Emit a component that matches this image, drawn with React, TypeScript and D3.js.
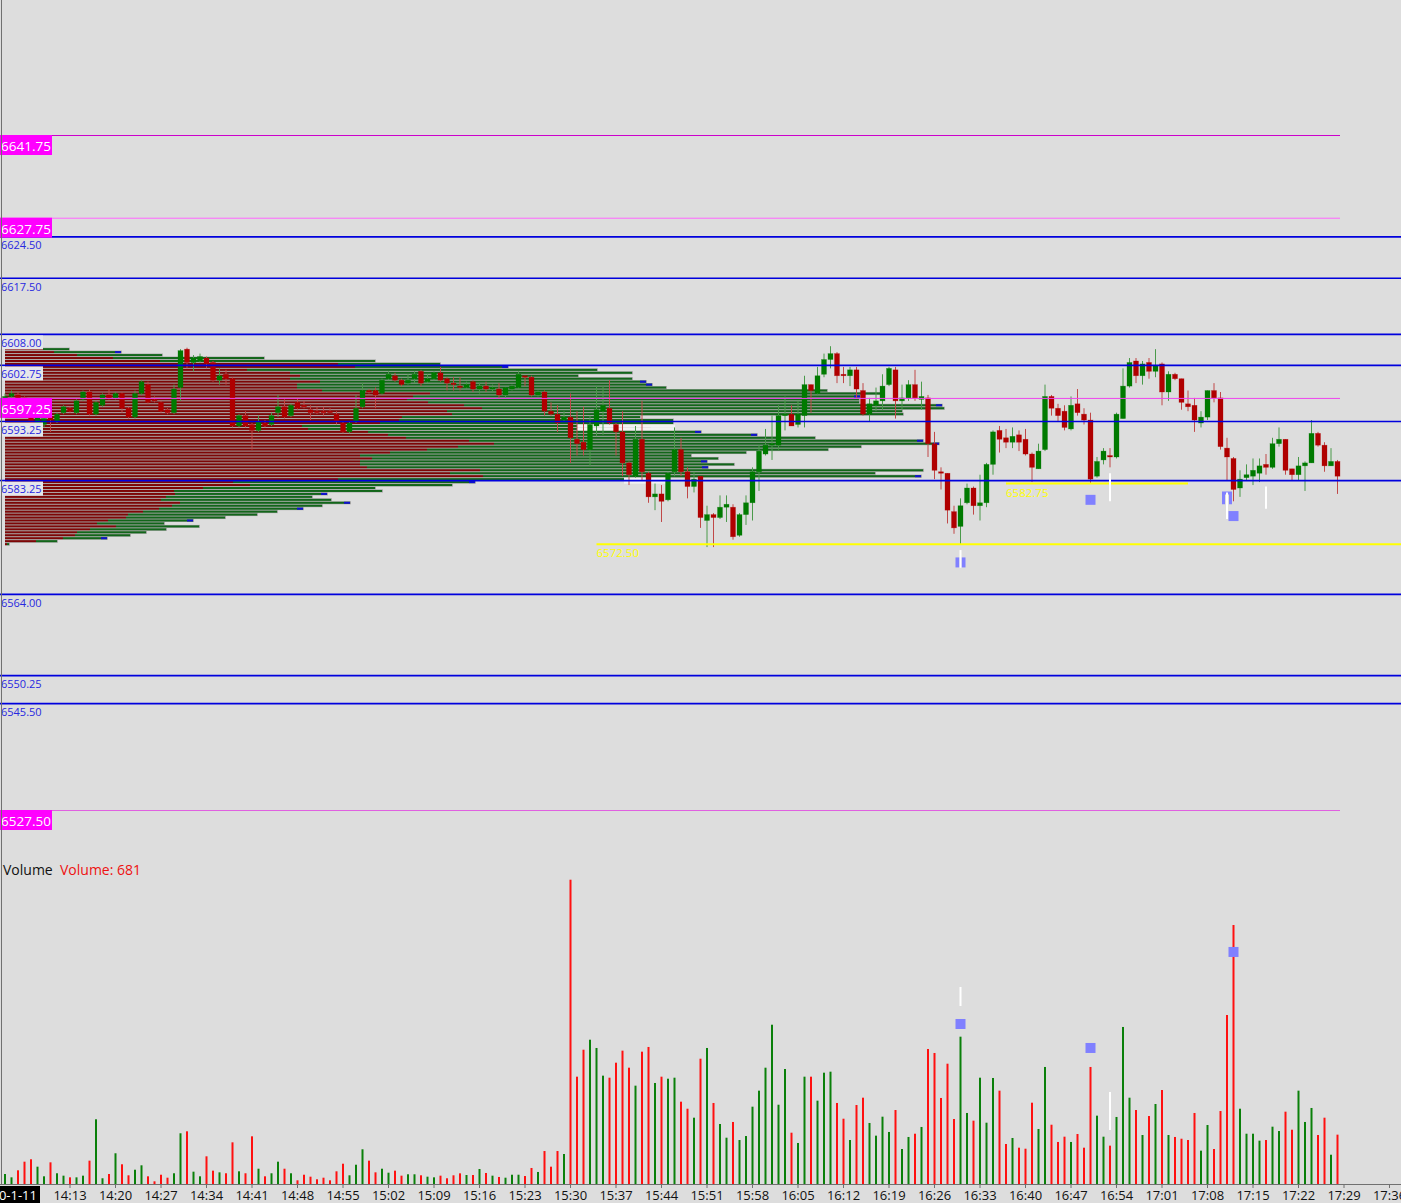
import React from "react";
import * as d3 from "d3";

const W = 1401;
const H = 1203;
const START_MIN = 14 * 60 + 3;

// [open, high, low, close] one per minute from 14:03
const ohlc: [number, number, number, number][] = [
  [6596.5, 6598, 6596.25, 6597.5], [6597.5, 6598.5, 6597, 6598], [6597.75, 6598.25, 6597, 6597.25], [6597.25, 6597.5, 6595.75, 6596],
  [6596, 6596.25, 6592.5, 6593], [6593, 6594.5, 6592.75, 6594.25], [6592.75, 6594, 6592.25, 6593.75], [6594, 6594.25, 6591.5, 6593.5],
  [6593.25, 6594.75, 6593, 6594.5], [6594.75, 6596, 6594.5, 6595.75], [6595.5, 6595.75, 6594.75, 6595], [6594.75, 6597, 6594.5, 6596.75],
  [6597, 6598.5, 6596.75, 6598.25], [6598.25, 6598.75, 6594.25, 6594.5], [6594.5, 6596.75, 6594.25, 6596.5], [6596, 6598, 6595.75, 6597.75],
  [6597.75, 6598.75, 6597, 6597.25], [6597.25, 6598.25, 6597, 6598], [6598, 6598.25, 6594.75, 6595.5], [6595.5, 6595.75, 6593.75, 6594],
  [6594, 6598.5, 6593.75, 6598], [6598, 6600.25, 6597.75, 6600], [6599.5, 6600, 6596.25, 6596.5], [6597, 6597.5, 6596.5, 6596.75],
  [6596.5, 6596.75, 6594.75, 6595], [6595.25, 6595.5, 6594.5, 6594.75], [6594.75, 6599.5, 6594.5, 6598.75], [6599, 6605.5, 6596.75, 6605.25],
  [6605.5, 6605.75, 6602.25, 6603.25], [6603.25, 6604.5, 6601.75, 6604], [6603.5, 6604.75, 6603.25, 6604.25], [6604, 6604.25, 6602.25, 6603],
  [6603.25, 6603.5, 6600, 6600.25], [6600.25, 6602.25, 6599.5, 6601], [6601.25, 6602, 6599.5, 6600.5], [6600.5, 6600.75, 6592.25, 6592.5],
  [6592.5, 6594.5, 6592.25, 6594.25], [6594.25, 6595, 6592.25, 6592.5], [6592.75, 6593, 6588.5, 6591.75], [6591.75, 6594.25, 6591.5, 6593.25],
  [6593, 6593.5, 6592.25, 6592.5], [6592.75, 6594.75, 6592.5, 6594.25], [6594.75, 6597.75, 6594, 6595.75], [6595.75, 6597, 6593.75, 6594],
  [6594.25, 6596.25, 6594, 6596], [6596.5, 6597.25, 6595.25, 6595.5], [6596, 6596.75, 6595.5, 6595.75], [6595.25, 6596, 6593.5, 6594.75],
  [6595, 6595.75, 6594.5, 6594.75], [6595, 6595.75, 6594.25, 6594.75], [6595, 6595.5, 6594.75, 6594.75], [6594.5, 6595, 6592.75, 6593.25],
  [6593, 6593.25, 6591.25, 6591.5], [6591.5, 6593.25, 6591.25, 6593], [6593.25, 6597.75, 6593, 6595.5], [6595.75, 6599.75, 6595.5, 6598.5],
  [6598.5, 6598.75, 6598, 6598.25], [6598.5, 6599, 6595.5, 6597.75], [6598, 6600.5, 6597.75, 6600.25], [6600.5, 6601.75, 6600.25, 6601.25],
  [6601, 6601.5, 6600, 6600.25], [6600.25, 6600.5, 6599.25, 6599.5], [6599.75, 6601.25, 6599.5, 6600.25], [6600.5, 6601.75, 6599.75, 6601.25],
  [6601.75, 6602, 6599.25, 6599.75], [6600, 6601.25, 6599.75, 6600.5], [6600.5, 6601.75, 6600.25, 6601.5], [6601.5, 6602.5, 6600, 6600.25],
  [6600.5, 6600.75, 6598.5, 6599.75], [6599.75, 6600.75, 6598.5, 6599.5], [6599.25, 6600.75, 6598.5, 6599], [6599, 6600, 6598.75, 6599.5],
  [6600, 6600.25, 6598.25, 6598.75], [6598.75, 6599.75, 6598, 6599.25], [6599.25, 6600, 6598.25, 6598.75], [6598.75, 6599.5, 6598.25, 6599],
  [6598.75, 6599.75, 6597.25, 6597.75], [6597.75, 6599, 6597.25, 6599], [6598.75, 6599.5, 6598.5, 6599.25], [6599, 6601.75, 6598.75, 6601.25],
  [6601, 6601, 6599.25, 6600.75], [6600.75, 6601, 6597.5, 6597.75], [6597.75, 6598.5, 6597.5, 6598.25], [6598.25, 6598.5, 6594.25, 6595],
  [6595, 6596.5, 6594.25, 6594.5], [6594.5, 6596, 6591.5, 6593], [6593.5, 6595, 6593.25, 6594], [6594, 6598, 6586.25, 6590.5],
  [6590.25, 6595, 6587.5, 6589.5], [6589.75, 6595.75, 6587.5, 6588.5], [6588.5, 6594.25, 6585.75, 6592.75], [6592.5, 6599.25, 6590.75, 6595.25],
  [6595, 6599.25, 6591, 6596], [6595.5, 6600.25, 6592.75, 6593], [6592.75, 6593, 6587.5, 6591.5], [6591.5, 6595, 6584, 6586.25],
  [6586.25, 6586.5, 6582.5, 6584.25], [6584, 6592.5, 6583.75, 6590.25], [6590.25, 6596.75, 6583.25, 6584.75], [6584.5, 6584.75, 6579.5, 6580.5],
  [6580.5, 6582.75, 6578.25, 6581], [6581, 6582.5, 6576.25, 6579.75], [6580, 6584.75, 6579.75, 6584.5], [6584.75, 6592.25, 6584, 6588.5],
  [6588.5, 6590.5, 6584, 6584.75], [6584.75, 6585.5, 6580.25, 6582.25], [6582.25, 6584.75, 6581.25, 6583.5], [6584, 6584, 6575.25, 6577],
  [6576.5, 6579, 6572, 6577.5], [6577.5, 6577.75, 6572, 6577], [6577, 6580.75, 6576.75, 6578.75], [6578.75, 6580.75, 6576.25, 6579.25],
  [6578.75, 6579.25, 6573.25, 6573.75], [6574, 6577.75, 6573.75, 6577.5], [6577.5, 6580.75, 6575.75, 6579.5], [6579.5, 6585.5, 6576.5, 6584.75],
  [6584.75, 6589.25, 6581.5, 6588.25], [6587.75, 6592, 6587.5, 6589.25], [6589.25, 6594.25, 6586.75, 6589.5], [6589.25, 6596, 6588.5, 6594.25],
  [6594.25, 6597.5, 6591.75, 6594.5], [6594.5, 6596, 6592.5, 6592.5], [6592.75, 6596.75, 6592.25, 6594.5], [6594.25, 6601, 6592.25, 6599.5],
  [6599.5, 6599.5, 6594.75, 6598.5], [6598, 6602.5, 6597.75, 6601], [6601.25, 6604.75, 6600.75, 6603.75], [6603.75, 6606, 6602.25, 6604.75],
  [6604.75, 6605, 6599.75, 6601], [6601.25, 6602.5, 6599.75, 6601], [6601, 6602.5, 6599.25, 6602], [6602, 6602.5, 6597.25, 6598.75],
  [6598.5, 6599.75, 6594.25, 6594.5], [6594.5, 6597.25, 6593.25, 6596.25], [6596, 6599, 6595, 6596.75], [6596.75, 6601.25, 6595.25, 6599.25],
  [6599.5, 6602.5, 6599.25, 6602.25], [6602, 6602.5, 6593.75, 6596.75], [6596.75, 6599.5, 6595.25, 6597.25], [6597.25, 6600.25, 6596.75, 6599.5],
  [6599.5, 6602, 6596.75, 6597.25], [6597, 6600, 6595.25, 6597.5], [6597.25, 6597.75, 6587.25, 6589.5], [6589.5, 6591.5, 6583.5, 6585],
  [6584.75, 6585.5, 6581.75, 6584.5], [6584.5, 6584.5, 6576, 6578.25], [6578, 6579, 6574.25, 6575.25], [6575.5, 6580.25, 6572.5, 6579],
  [6579.5, 6582.75, 6579.25, 6582], [6582, 6582.25, 6577.5, 6579], [6579, 6584.25, 6576.5, 6579.5], [6579.5, 6586.25, 6578.75, 6586],
  [6586, 6591.75, 6584.25, 6591.5], [6591.75, 6592.5, 6588, 6590.25], [6590.5, 6592, 6588.75, 6589.75], [6589.75, 6592.25, 6588.75, 6590.75],
  [6591, 6591.75, 6588.25, 6589.75], [6590.25, 6592, 6587.5, 6587.75], [6587.75, 6588, 6583, 6585.5], [6585.25, 6589.5, 6585.25, 6588.25],
  [6588.5, 6599.5, 6588.25, 6597.5], [6597.5, 6597.75, 6594.25, 6595.5], [6595.5, 6596.25, 6593.25, 6594.25], [6595, 6596, 6591.75, 6592.25],
  [6592, 6597.5, 6591.75, 6596], [6596.25, 6598.75, 6594.25, 6594.75], [6594.5, 6595.5, 6592.75, 6593.5], [6593.5, 6594.75, 6582.75, 6583.5],
  [6584, 6587.25, 6583.75, 6586.5], [6586.75, 6588.75, 6586, 6588.25], [6587.5, 6588.75, 6585.5, 6587.25], [6587.25, 6594.75, 6587, 6594.5],
  [6593.75, 6602.25, 6593.75, 6599.25], [6599.25, 6604, 6599, 6603.25], [6603.5, 6604, 6599.75, 6601], [6601, 6603.5, 6599.5, 6603],
  [6603.25, 6604, 6600.5, 6601.75], [6601.75, 6605.5, 6600.75, 6602.75], [6603, 6603.25, 6596, 6598.25], [6598.25, 6601.75, 6596.75, 6601.25],
  [6601.25, 6601.5, 6600.25, 6600.5], [6600.5, 6600.5, 6595.25, 6596.5], [6596.25, 6598.5, 6595, 6595.75], [6596, 6597.25, 6591.5, 6593.5],
  [6593, 6595, 6592.25, 6594], [6594, 6598.5, 6593.5, 6598.5], [6598.5, 6599.75, 6596.5, 6597.25], [6597.25, 6598.25, 6588.5, 6589],
  [6588.75, 6590.5, 6583.25, 6587.25], [6587, 6587.25, 6579.75, 6581.75], [6582, 6585, 6580.5, 6583.5], [6583.75, 6586, 6583.25, 6584.25],
  [6584, 6587, 6582.5, 6585], [6584.5, 6587, 6583, 6585.75], [6586, 6587.75, 6584.25, 6585.5], [6585.5, 6590.5, 6585.25, 6589.5],
  [6589.5, 6592.25, 6589, 6590.25], [6590.25, 6590.25, 6584.25, 6585], [6585.25, 6585.25, 6583.25, 6584.25], [6584.25, 6587.25, 6583.25, 6585.75],
  [6585.75, 6586.5, 6581.5, 6586.25], [6586.25, 6593.5, 6586.25, 6591.25], [6591.25, 6591.5, 6589, 6589.25], [6589.25, 6589.75, 6584.75, 6585.75],
  [6585.75, 6588.75, 6585.75, 6586.5], [6586.5, 6586.75, 6581, 6584],
];

const volumes: number[] = [
  138, 92, 189, 308, 341, 239, 106, 299, 148, 115, 92, 92, 115, 322, 893, 79, 138, 424, 272, 120,
  197, 258, 106, 37, 128, 87, 148, 700, 727, 170, 106, 382, 184, 161, 148, 575, 175, 148, 658, 211,
  106, 148, 308, 211, 148, 51, 128, 101, 65, 87, 51, 175, 280, 120, 266, 479, 322, 161, 211, 156,
  184, 115, 134, 134, 120, 101, 92, 115, 79, 120, 147, 124, 124, 207, 152, 115, 97, 87, 128, 128,
  110, 221, 166, 455, 239, 455, 414, 4199, 1481, 1853, 1991, 1877, 1495, 1467, 1674, 1840, 1605, 1357, 1826, 1891,
  1394, 1481, 1453, 1467, 1136, 1039, 915, 1729, 1877, 1118, 828, 639, 856, 607, 662, 1067, 1288, 1605, 2198, 1094,
  1587, 708, 566, 1481, 1481, 1150, 1536, 1550, 1118, 901, 607, 1090, 1191, 842, 667, 929, 718, 1021, 483, 649,
  694, 787, 1863, 1808, 1187, 1660, 897, 2033, 980, 874, 1467, 846, 1463, 1288, 552, 635, 501, 487, 1122, 759,
  1615, 818, 580, 653, 580, 690, 501, 1615, 943, 653, 529, 925, 2167, 1191, 1021, 676, 938, 1104, 1297, 676,
  649, 625, 607, 980, 460, 814, 483, 1007, 2332, 3574, 1039, 694, 694, 598, 607, 791, 731, 998, 749, 1288,
  856, 1049, 676, 915, 404, 681,
];

const timeLabels = [
  "14:13", "14:20", "14:27", "14:34", "14:41", "14:48", "14:55", "15:02", "15:09", "15:16",
  "15:23", "15:30", "15:37", "15:44", "15:51", "15:58", "16:05", "16:12", "16:19", "16:26",
  "16:33", "16:40", "16:47", "16:54", "17:01", "17:08", "17:15", "17:22", "17:29", "17:36",
];

// volume profile (0.5 pt rows), sell (red) / buy (green) volumes
const profileLevels = [
  6605.5, 6605, 6604.5, 6604, 6603.5, 6603, 6602.5, 6602, 6601.5, 6601, 6600.5, 6600, 6599.5, 6599,
  6598.5, 6598, 6597.5, 6597, 6596.5, 6596, 6595.5, 6595, 6594.5, 6594, 6593.5, 6593, 6592.5, 6592,
  6591.5, 6591, 6590.5, 6590, 6589.5, 6589, 6588.5, 6588, 6587.5, 6587, 6586.5, 6586, 6585.5, 6585,
  6584.5, 6584, 6583.5, 6583, 6582.5, 6582, 6581.5, 6581, 6580.5, 6580, 6579.5, 6579, 6578.5, 6578,
  6577.5, 6577, 6576.5, 6576, 6575.5, 6575, 6574.5, 6574, 6573.5, 6573, 6572.5,
];
const profileSell = [
  380, 490, 720, 1080, 1550, 3330, 3500, 2420, 2850, 2950, 2850, 3150, 2920, 2920,
  3170, 4250, 4080, 4020, 4230, 4590, 4770, 4420, 4470, 3970, 3940, 3750, 2970, 3030,
  3630, 3830, 4010, 4640, 4890, 4530, 4220, 3850, 3550, 3670, 3550, 3550, 3620, 4750,
  4450, 4780, 3330, 2280, 2450, 1980, 1690, 1700, 1610, 1560, 1750, 1670, 1540, 1380,
  1230, 1210, 1030, 920, 1110, 850, 720, 700, 580, 310, 20,
];
const profileBuy = [
  260, 670, 850, 1510, 2150, 1020, 1530, 3500, 3420, 2780, 3420, 3260, 3550, 3690,
  5050, 4500, 4470, 4520, 4310, 4780, 4620, 4550, 4510, 2380, 2740, 2930, 3180, 3420,
  3330, 3690, 4090, 4540, 4450, 4030, 4010, 3560, 3310, 3460, 3470, 3740, 3410, 4430,
  4250, 4380, 3020, 2420, 2020, 1720, 2080, 1520, 1460, 1700, 1700, 1500, 1440, 1340,
  1290, 990, 850, 670, 830, 760, 690, 550, 440, 210, 20,
];
const profileMarkedRows = [1, 6, 11, 12, 16, 19, 28, 29, 31, 32, 38, 40, 43, 45, 49, 52, 54, 58, 64];
// light (white) highlighted stretches of the profile: level, from volume, to volume
const highlightLevels = [6592.5, 6592, 6583.5, 6583];
const highlightFrom = [5720, 5720, 6190, 6190];
const highlightTo = [6700, 6700, 6650, 6650];

const blueLevels = [6624.5, 6617.5, 6608, 6602.75, 6593.25, 6583.25, 6564, 6550.25, 6545.5];
const boxedBlueLevels = [6608, 6602.75, 6593.25, 6583.25];
const magentaLevels = [6641.75, 6627.75, 6597.25, 6527.5];
const magentaColors = ["#cc00cc", "#ff66ff", "#ee44ee", "#e060e0"];

// yellow levels: price, first bar index, last bar index (null = to edge)
const yellowPrices = [6572.5, 6582.75];
const yellowFrom = [91, 154];
const yellowTo = [null, 182];

// signals
const priceSquareIdx = [167, 189];
const priceSquarePrice = [6580.0, 6577.25];
const priceWhiteIdx = [170, 188, 194, 147];
const priceWhiteHi = [6584.5, 6581.25, 6582.25, 6571.5];
const priceWhiteLo = [6579.75, 6576.75, 6578.5, 6568.5];
const volSquareIdx = [147, 167, 189];
const volSquareVal = [2208, 1877, 3202];
const volWhiteIdx = [147, 170];
const volWhiteHi = [2719, 1270];
const volWhiteLo = [2456, 745];

const FONT = "'Open Sans', 'Noto Sans', sans-serif";

const x = d3.scaleLinear().domain([START_MIN, START_MIN + 205]).range([5, 1337.5]);
const xi = (i: number) => x(START_MIN + i);
const yP = d3.scaleLinear().domain([6527.5, 6641.75]).range([810, 135]);
const yV = d3.scaleLinear().domain([0, 4471]).range([1184, 860]);
const xProf = d3.scaleLinear().domain([0, 10000]).range([5, 1005]);

const fmt = d3.format(".2f");

function labelMinutes(s: string) {
  const [h, m] = s.split(":").map(Number);
  return h * 60 + m;
}

export default function App() {
  const green = "#007a00";
  const red = "#b00000";
  return (
    <div style={{ margin: 0, padding: 0 }}>
      <style>{"body{margin:0;padding:0;overflow:hidden;background:#dddddd}"}</style>
      <svg width={W} height={H} style={{ display: "block", background: "#dddddd" }} fontFamily={FONT}>
        <rect x={0} y={0} width={W} height={H} fill="#dddddd" />

        {/* volume profile */}
        <g>
          {profileLevels.map((lv, k) => {
            const yc = yP(lv);
            const xr = xProf(profileSell[k]);
            const xt = xProf(profileSell[k] + profileBuy[k]);
            const marked = profileMarkedRows.includes(k);
            return (
              <g key={"pf" + k}>
                <rect x={xProf(0)} y={yc - 1.5} width={xt - xProf(0) + 1} height={3} fill="#a4a4a4" />
                <rect x={xProf(0)} y={yc - 1} width={xr - xProf(0)} height={2} fill="#7d0606" />
                <rect x={xr} y={yc - 1} width={Math.max(0, xt - xr)} height={2} fill="#12661a" />
                {marked && <rect x={xt - 6} y={yc - 1} width={6} height={2} fill="#1010d0" />}
              </g>
            );
          })}
          {highlightLevels.map((lv, k) => (
            <rect key={"hl" + k} x={xProf(highlightFrom[k])} y={yP(lv) - 1.5} width={xProf(highlightTo[k]) - xProf(highlightFrom[k])} height={3} fill="#f2f2f2" />
          ))}
        </g>

        {/* candles */}
        <g>
          {ohlc.map((d, i) => {
            const [o, h, l, c] = d;
            const up = c >= o;
            const cx = xi(i);
            const yTop = yP(Math.max(o, c));
            const yBot = yP(Math.min(o, c));
            const col = up ? green : red;
            return (
              <g key={"c" + i}>
                <line x1={cx} x2={cx} y1={yP(h)} y2={yP(l)} stroke={up ? "#4a9a4a" : "#c04848"} strokeWidth={1} />
                <rect x={cx - 2.5} y={yTop} width={5} height={Math.max(1.2, yBot - yTop)} fill={col} stroke={col} strokeOpacity={0.45} strokeWidth={0.6} />
              </g>
            );
          })}
        </g>

        {/* magenta levels */}
        {magentaLevels.map((lv, k) => (
          <line key={"ml" + k} x1={0} x2={1340} y1={yP(lv) + 0.5} y2={yP(lv) + 0.5} stroke={magentaColors[k]} strokeWidth={1} />
        ))}
        {/* blue levels */}
        {blueLevels.map((lv, k) => (
          <line key={"bl" + k} x1={0} x2={W} y1={yP(lv)} y2={yP(lv)} stroke="#0000dd" strokeWidth={1.6} />
        ))}
        {/* yellow levels */}
        {yellowPrices.map((lv, k) => (
          <g key={"yl" + k}>
            <line x1={xi(yellowFrom[k])} x2={yellowTo[k] == null ? W : xi(yellowTo[k] as number)} y1={yP(lv)} y2={yP(lv)} stroke="#ffff00" strokeWidth={2} />
            <text x={xi(yellowFrom[k])} y={yP(lv) + 13} fontSize={11.5} fill="#ffff00">{fmt(lv)}</text>
          </g>
        ))}

        {/* blue labels */}
        {blueLevels.map((lv, k) => {
          const y = yP(lv);
          const boxed = boxedBlueLevels.includes(lv);
          return (
            <g key={"bt" + k}>
              {boxed && <rect x={0} y={y + 1} width={43} height={14} fill="#e6e6ea" />}
              <text x={1} y={y + 12.5} fontSize={11} fill="#2828e0">{fmt(lv)}</text>
            </g>
          );
        })}
        {/* magenta labels */}
        {magentaLevels.map((lv, k) => {
          const y = yP(lv);
          return (
            <g key={"mt" + k}>
              <rect x={0} y={y} width={52} height={20} fill="#ff00ff" />
              <text x={1} y={y + 16} fontSize={13.5} fill="#ffffff">{fmt(lv)}</text>
            </g>
          );
        })}

        {/* price signals */}
        {priceSquareIdx.map((i, k) => (
          <rect key={"ps" + k} x={xi(i) - 5} y={yP(priceSquarePrice[k]) - 5} width={10} height={10} fill="#8080ff" />
        ))}
        <path d={`M${xi(188) - 5},${yP(6579.25)} V${yP(6580.75) - 4} H${xi(188) + 5} V${yP(6579.25)} H${xi(188) + 2} V${yP(6580.75) - 1} H${xi(188) - 2} V${yP(6579.25)} Z`} fill="#8080ff" />
        <rect x={xi(147) - 5} y={yP(6570.25)} width={4} height={10} fill="#8080ff" />
        <rect x={xi(147) + 1} y={yP(6570.25)} width={4} height={10} fill="#8080ff" />
        {priceWhiteIdx.map((i, k) => (
          <line key={"pw" + k} x1={xi(i)} x2={xi(i)} y1={yP(priceWhiteHi[k])} y2={yP(priceWhiteLo[k])} stroke="#ffffff" strokeWidth={2} />
        ))}

        {/* volume pane */}
        <text x={3} y={875} fontSize={14} fill="#111">Volume</text>
        <text x={60} y={875} fontSize={14} fill="#ee1111">{"Volume: " + volumes[volumes.length - 1]}</text>
        {volumes.map((v, i) => {
          const [o, , , c] = ohlc[i];
          const up = c >= o;
          const cx = xi(i);
          return (
            <rect key={"v" + i} x={cx - 1} y={yV(v)} width={2} height={yV(0) - yV(v)} fill={up ? "#0a800a" : "#ff1010"} />
          );
        })}
        {volSquareIdx.map((i, k) => (
          <rect key={"vs" + k} x={xi(i) - 5} y={yV(volSquareVal[k]) - 5} width={10} height={10} fill="#8080ff" />
        ))}
        {volWhiteIdx.map((i, k) => (
          <line key={"vw" + k} x1={xi(i)} x2={xi(i)} y1={yV(volWhiteHi[k])} y2={yV(volWhiteLo[k])} stroke="#ffffff" strokeWidth={2} />
        ))}

        {/* left border */}
        <line x1={1.5} x2={1.5} y1={0} y2={1184} stroke="#707070" strokeWidth={1} />

        {/* x axis */}
        <line x1={0} x2={W} y1={1184.5} y2={1184.5} stroke="#707070" strokeWidth={1} />
        {timeLabels.map((t) => {
          const px = x(labelMinutes(t));
          return (
            <g key={"t" + t}>
              <line x1={px} x2={px} y1={1184} y2={1188} stroke="#707070" />
              <text x={px} y={1200} fontSize={13} fill="#111" textAnchor="middle">{t}</text>
            </g>
          );
        })}
        <rect x={0} y={1186} width={40} height={17} fill="#000" />
        <text x={37} y={1200} fontSize={13} fill="#fff" textAnchor="end">10-1-11</text>
      </svg>
    </div>
  );
}
